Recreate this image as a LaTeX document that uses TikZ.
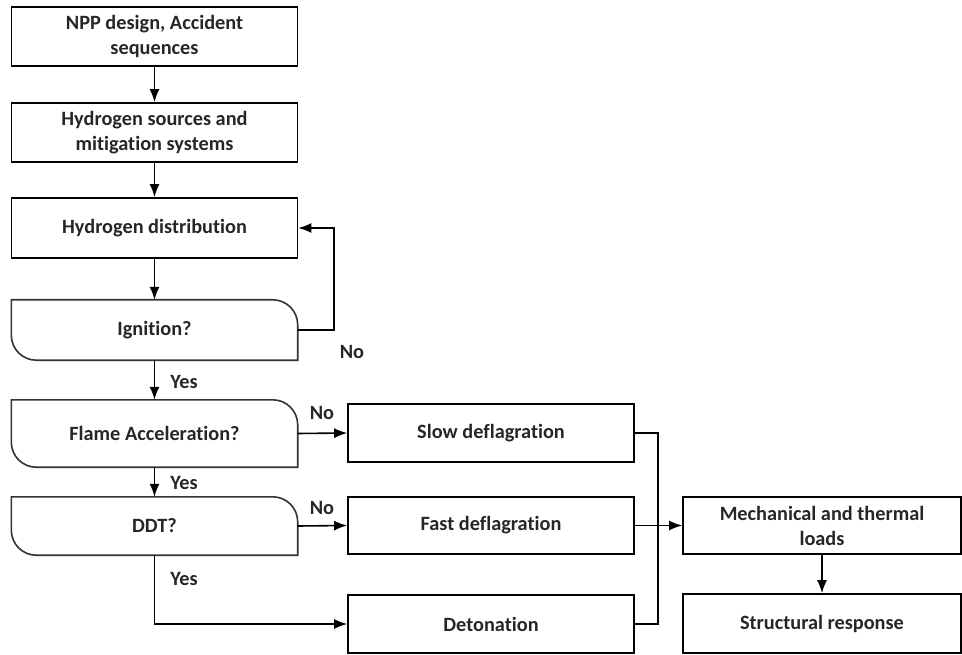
\documentclass[tikz,border=0pt]{standalone}
\usepackage{fontspec}
\setmainfont{Carlito}[Ligatures=NoCommon]
\usetikzlibrary{arrows.meta,calc}
\begin{document}
\begin{tikzpicture}[x=1pt,y=-1pt,
  every node/.style={font=\bfseries\fontsize{20.3}{25}\selectfont, text=black!85},
  box/.style={draw, line width=1.6pt, minimum width=286pt, align=center, inner sep=0pt},
  dec/.style={minimum width=286pt, inner sep=0pt, align=center},
  lbl/.style={inner sep=0pt},
  arr/.style={-{Latex[length=13pt,width=10pt]}, line width=1.6pt},
  ln/.style={line width=1.6pt}]
\useasboundingbox (0,0) rectangle (962,655);
\newcommand{\decshape}[2]{%
  \draw[line width=1.6pt, draw=black!80] (#1.north west) -- ($(#1.north east)+(-#2,0)$)
    arc[start angle=-90,end angle=0,radius=#2] -- (#1.south east)
    -- ($(#1.south west)+(#2,0)$) arc[start angle=90,end angle=180,radius=#2] -- cycle;}
\node[box, minimum height=59pt] (b1) at (154.5,36.5) {NPP design, Accident\\sequences};
\node[box, minimum height=59pt] (b2) at (154.5,132.5) {Hydrogen sources and\\mitigation systems};
\node[box, minimum height=60pt] (b3) at (154.5,228) {Hydrogen distribution};
\node[dec, minimum height=60pt] (ign) at (154.5,330) {Ignition?};
\node[dec, minimum height=67pt] (fa) at (154.5,433.5) {Flame Acceleration?};
\node[dec, minimum height=58pt] (ddt) at (154.5,526) {DDT?};
\decshape{ign}{25}
\decshape{fa}{25}
\decshape{ddt}{25}
\node[box, minimum height=58pt] (slow) at (491,433) {Slow deflagration};
\node[box, minimum height=57pt] (fast) at (491,525.5) {Fast deflagration};
\node[box, minimum height=58pt] (det) at (491,624) {Detonation};
\node[box, minimum width=278pt, minimum height=57pt] (mech) at (822,525.5) {Mechanical and thermal\\loads};
\node[box, minimum width=278pt, minimum height=59pt] (str) at (822,623.5) {Structural response};
\coordinate (loop) at (334,330);
\coordinate (bus) at (658,433);
\coordinate (dturn) at (154.5,624);
\draw[arr] (b1) -- (b2);
\draw[arr] (b2) -- (b3);
\draw[arr] (b3) -- (ign);
\draw[arr] (ign.east) -- (loop) |- (b3.east);
\draw[arr] (ign) -- (fa);
\draw[arr] (fa) -- (ddt);
\draw[arr] (fa.east) -- (slow.west);
\draw[arr] (ddt.east) -- (fast.west);
\draw[arr] (ddt.south) -- (dturn) -- (det.west);
\draw[ln] (slow.east) -| (bus) |- (det.east);
\draw[arr] (fast.east) -- (mech.west);
\draw[arr] (mech) -- (str);
\node[lbl] at (352,352) {No};
\node[lbl] at (184,382) {Yes};
\node[lbl] at (322,413) {No};
\node[lbl] at (184,483) {Yes};
\node[lbl] at (322,508) {No};
\node[lbl] at (184,579) {Yes};
\end{tikzpicture}
\end{document}
